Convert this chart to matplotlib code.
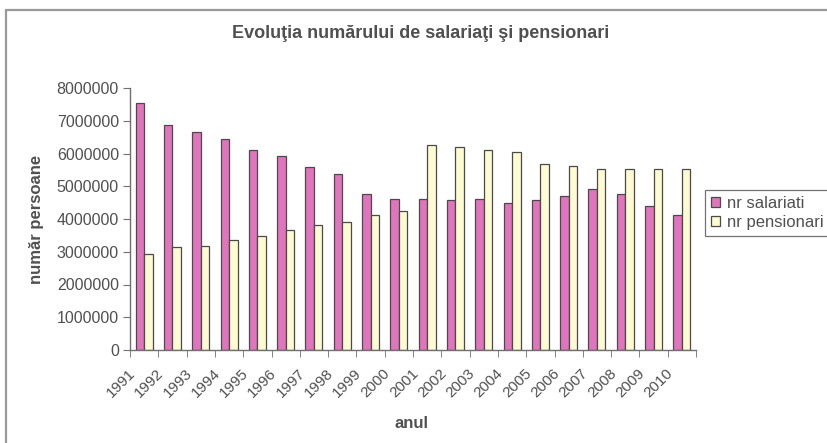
import numpy as np
import matplotlib
matplotlib.use('Agg')
import matplotlib.pyplot as plt
from matplotlib.ticker import FuncFormatter
from matplotlib.patches import Rectangle
from matplotlib.transforms import ScaledTranslation

#Dados (milioane de persoane):
anii = ['1991', '1992', '1993', '1994', '1995', '1996', '1997', '1998', '1999', '2000',
        '2001', '2002', '2003', '2004', '2005', '2006', '2007', '2008', '2009', '2010']
salariati = [7.53, 6.88, 6.65, 6.43, 6.11, 5.93, 5.59, 5.38, 4.75, 4.61,
             4.61, 4.59, 4.62, 4.48, 4.59, 4.70, 4.92, 4.77, 4.39, 4.12]
pensionari = [2.94, 3.13, 3.17, 3.35, 3.48, 3.65, 3.81, 3.91, 4.11, 4.25,
              6.27, 6.20, 6.12, 6.05, 5.69, 5.63, 5.54, 5.54, 5.54, 5.52]

plt.rcParams['font.family'] = ['Liberation Sans', 'DejaVu Sans']
text_col = '#505050'
axis_col = '#707070'

fig = plt.figure(figsize=(8.28, 4.43), dpi=100)
ax = fig.add_axes([130/828, 1-350/443, 566/828, 262/443])

#chenarul graficului
fig.patches.append(Rectangle((6/828, -0.1), 1.2, 1-10/443+0.1, transform=fig.transFigure,
                             fill=False, edgecolor='#9a9a9a', linewidth=1.6))

x = np.arange(len(anii))
w = 0.3
s = np.array(salariati)*1e6
p = np.array(pensionari)*1e6
ax.bar(x-w/2, s, w, color='#e074bd', edgecolor='#4a4a4a', linewidth=0.9, label='nr salariati')
ax.bar(x+w/2, p, w, color='#fdfbd2', edgecolor='#4a4a4a', linewidth=0.9, label='nr pensionari')

ax.set_xlim(-0.5, len(anii)-0.5)
ax.set_ylim(0, 8e6)
ax.set_yticks(np.arange(0, 8e6+1, 1e6))
ax.yaxis.set_major_formatter(FuncFormatter(lambda v, pos: '%d' % v))

ax.set_xticks(x)
ax.set_xticklabels(anii, rotation=45, ha='right', va='center', rotation_mode='anchor')
ax.set_xticks(np.arange(-0.5, len(anii)), minor=True)
ax.tick_params(axis='x', which='major', length=0, pad=15, labelsize=11, labelcolor=text_col)
ax.tick_params(axis='x', which='minor', length=5, direction='out', color=axis_col)
ax.tick_params(axis='y', length=5, direction='out', color=axis_col, labelsize=11.5,
               labelcolor=text_col, pad=3)
for lbl in ax.get_xticklabels():
    lbl.set_transform(lbl.get_transform() + ScaledTranslation(-8/72, 0, fig.dpi_scale_trans))

for side in ['top', 'right']:
    ax.spines[side].set_visible(False)
for side in ['left', 'bottom']:
    ax.spines[side].set_color(axis_col)
    ax.spines[side].set_linewidth(1.0)

ax.set_ylabel('număr persoane', fontsize=12, fontweight='bold', color=text_col)
ax.yaxis.set_label_coords(-0.152, 0.5)
ax.set_xlabel('anul', fontsize=12, fontweight='bold', color=text_col)
ax.xaxis.set_label_coords(0.498, -0.25)

fig.text(421/828, 1-33/443, 'Evoluţia numărului de salariaţi şi pensionari',
         ha='center', va='center', fontsize=13, fontweight='bold', color=text_col)

leg = ax.legend(loc='upper left', bbox_to_anchor=(705/828, 1-190/443),
                bbox_transform=fig.transFigure, fontsize=12, frameon=True, fancybox=False,
                handlelength=0.55, handleheight=0.55, handletextpad=0.4, borderpad=0.35,
                labelspacing=0.25, borderaxespad=0)
leg.get_frame().set_edgecolor('#505050')
leg.get_frame().set_linewidth(0.9)
for t in leg.get_texts():
    t.set_color(text_col)

fig.savefig('out.png', dpi=100)
